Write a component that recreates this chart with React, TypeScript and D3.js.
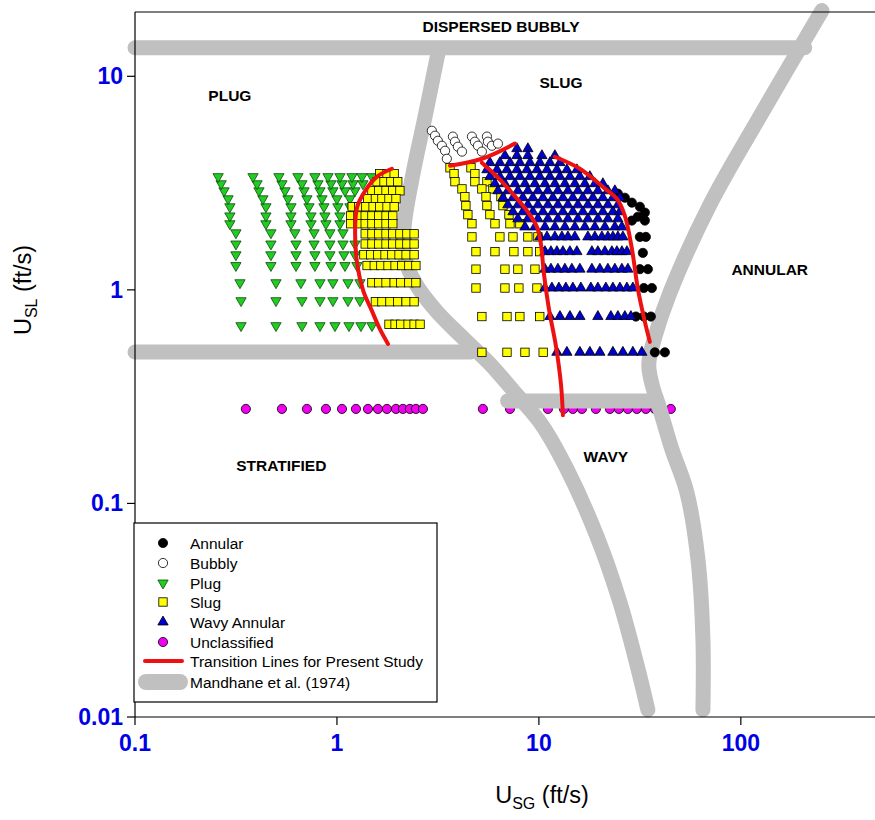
import React from "react";
import * as d3 from "d3";

// ---------- axes ----------
const xTicks = [0.1, 1, 10, 100];
const xTickLabels = ["0.1", "1", "10", "100"];
const yTicks = [0.01, 0.1, 1, 10];
const yTickLabels = ["0.01", "0.1", "1", "10"];

// ---------- data: [USL, [USG...]] rows ----------
const plugRows: [number, number[]][] = [
  [0.68, [0.335, 0.499, 0.671, 0.824, 0.978, 1.147, 1.315, 1.491]],
  [0.89, [0.335, 0.499, 0.671, 0.824, 0.955, 1.134, 1.3]],
  [1.08, [0.331, 0.499, 0.663, 0.824, 0.955, 1.134, 1.3]],
  [1.3, [0.316, 0.471, 0.627, 0.778, 0.934, 1.096, 1.256]],
  [1.46, [0.316, 0.471, 0.627, 0.778, 0.923, 1.083, 1.228]],
  [1.64, [0.316, 0.471, 0.627, 0.77, 0.923, 1.071, 1.228]],
  [1.85, [0.316, 0.471, 0.619, 0.77, 0.923, 1.071]],
  [2.04, [0.295, 0.445, 0.592, 0.744, 0.882, 1.035]],
  [2.22, [0.295, 0.445, 0.592, 0.744, 0.872, 1.035]],
  [2.45, [0.295, 0.445, 0.592, 0.727, 0.862, 1.011, 1.16]],
  [2.67, [0.289, 0.43, 0.572, 0.71, 0.843, 1.0, 1.16]],
  [2.91, [0.276, 0.411, 0.553, 0.687, 0.824, 0.955, 1.096, 1.228]],
  [3.14, [0.267, 0.402, 0.534, 0.671, 0.805, 0.934, 1.059, 1.2, 1.345]],
  [3.39, [0.258, 0.384, 0.516, 0.641, 0.778, 0.903, 1.035, 1.187, 1.33, 1.49]],
];

const slugLeftRows: [number, number[]][] = [
  [3.5, [1.63, 1.77, 1.92]],
  [3.21, [1.58, 1.71, 1.85, 2.0]],
  [2.91, [1.49, 1.61, 1.75, 1.89, 2.05]],
  [2.67, [1.42, 1.55, 1.67, 1.81, 1.96]],
  [2.45, [1.19, 1.28, 1.39, 1.51, 1.63, 1.77, 1.92]],
  [2.22, [1.17, 1.27, 1.38, 1.49, 1.61, 1.75, 1.89]],
  [2.04, [1.17, 1.27, 1.38, 1.49, 1.61, 1.75, 1.89]],
  [1.83, [1.38, 1.49, 1.61, 1.75, 1.89, 2.05, 2.22, 2.41]],
  [1.64, [1.38, 1.49, 1.61, 1.75, 1.89, 2.05, 2.22, 2.41]],
  [1.46, [1.36, 1.47, 1.59, 1.73, 1.87, 2.03, 2.2, 2.41]],
  [1.3, [1.41, 1.53, 1.65, 1.79, 1.94, 2.09, 2.27, 2.46]],
  [1.08, [1.49, 1.61, 1.75, 1.92, 2.07, 2.27, 2.46]],
  [0.88, [1.55, 1.67, 1.83, 2.0, 2.2, 2.41]],
  [0.69, [1.81, 1.94, 2.07, 2.25, 2.41, 2.58]],
];

const slugMidRows: [number, number[]][] = [
  [3.73, [3.63, 4.61]],
  [3.5, [3.8, 4.82]],
  [3.21, [3.84, 4.82, 5.53]],
  [2.97, [4.16, 5.22, 5.92]],
  [2.73, [4.3, 5.47, 6.49]],
  [2.48, [4.35, 5.53, 6.64]],
  [2.25, [4.45, 5.72, 7.11]],
  [2.04, [4.66, 6.06, 7.19, 8.05]],
  [1.77, [4.66, 6.41, 7.44, 8.82, 9.89]],
  [1.51, [4.88, 6.06, 7.52, 8.82, 10.1]],
  [1.25, [4.88, 6.79, 7.87, 9.56]],
  [1.02, [4.88, 6.79, 7.96, 9.78]],
  [0.75, [5.22, 6.95, 8.05, 10.1]],
  [0.51, [5.22, 6.95, 8.53, 10.5]],
];

const wavyRows: [number, number[]][] = [
  [4.58, [7.78, 8.82]],
  [4.25, [6.79, 7.78, 8.82, 10.35, 12.0]],
  [3.94, [5.72, 6.41, 7.19, 8.05, 9.03, 10.11, 11.34, 12.71]],
  [3.65, [5.53, 6.2, 6.94, 7.78, 8.72, 9.78, 10.96, 12.28, 13.76, 15.42]],
  [3.39, [5.72, 6.41, 7.19, 8.05, 9.03, 10.11, 11.34, 12.71, 14.24, 15.96, 17.88]],
  [3.14, [6.06, 6.79, 7.61, 8.53, 9.55, 10.71, 12.0, 13.45, 15.07, 16.89, 18.93, 20.74]],
  [2.91, [6.27, 7.02, 7.87, 8.82, 9.89, 11.08, 12.42, 13.92, 15.6, 17.48, 19.59, 21.96, 23.78]],
  [2.7, [6.64, 7.44, 8.33, 9.34, 10.47, 11.73, 13.15, 14.73, 16.51, 18.51, 20.74, 23.25, 25.18]],
  [2.5, [7.02, 7.87, 8.82, 9.89, 11.08, 12.42, 13.92, 15.6, 17.48, 19.59, 21.96, 24.61]],
  [2.32, [7.44, 8.33, 9.34, 10.47, 11.73, 13.15, 14.73, 16.51, 18.51, 20.74, 23.25, 25.18]],
  [2.15, [7.87, 8.82, 9.89, 11.08, 12.42, 13.92, 15.6, 17.48, 19.59, 21.96, 24.61]],
  [1.97, [8.53, 9.55, 10.71, 12.0, 13.45, 15.07, 16.89, 18.93, 21.22, 23.78, 25.76]],
  [1.77, [10.11, 10.96, 12.0, 13.0, 13.92, 15.07, 17.48, 18.93, 20.51, 21.96, 23.25, 24.61, 26.05]],
  [1.51, [10.71, 11.47, 12.28, 13.15, 14.24, 15.42, 18.3, 19.59, 21.22, 22.98, 24.33, 25.76, 27.27]],
  [1.25, [10.71, 11.47, 12.42, 13.45, 14.56, 15.96, 18.3, 20.04, 21.96, 23.78, 25.76, 27.58]],
  [1.02, [10.71, 11.6, 12.56, 13.6, 14.73, 16.14, 18.09, 19.59, 21.46, 23.25, 25.18, 27.27, 29.2]],
  [0.75, [11.34, 12.71, 14.24, 15.96, 19.59, 22.72, 24.61, 26.65, 28.54]],
  [0.51, [12.28, 13.76, 15.96, 17.88, 20.04, 23.25, 26.05, 29.2, 32.35]],
];

// [USG, USL]
const annularPts: [number, number][] = [
  [24.61, 2.82], [26.65, 2.7], [28.87, 2.56], [31.62, 2.45], [33.48, 2.3],
  [30.91, 2.2], [33.48, 2.11], [28.87, 2.11], [31.62, 1.77], [33.86, 1.77],
  [32.72, 1.49], [31.62, 1.25], [34.64, 1.25], [33.09, 1.02], [36.26, 1.02],
  [30.22, 0.75], [33.09, 0.75], [35.85, 0.75], [37.52, 0.51], [42.05, 0.51],
];

const bubblyPts: [number, number][] = [
  [2.95, 5.56], [3.06, 5.27], [3.16, 4.99], [3.31, 4.73], [3.43, 4.48], [3.5, 4.11],
  [3.75, 5.22], [3.84, 4.94], [3.97, 4.68], [4.16, 4.44],
  [4.66, 5.22], [4.82, 4.94], [4.99, 4.73], [5.22, 4.44],
  [5.53, 5.22], [5.59, 4.94], [5.85, 4.73], [6.27, 4.84],
];

const unclassifiedUSL = 0.277;
const unclassifiedUSG = [
  0.354, 0.534, 0.71, 0.882, 1.059, 1.242, 1.424, 1.596, 1.768, 1.96, 2.122, 2.298, 2.461, 2.666,
  5.28, 7.19, 9.34, 11.08, 13.3, 14.73, 16.33, 19.15, 22.47, 24.89, 27.58, 30.56, 33.86, 37.52, 40.64, 45.0,
];

// transition lines of present study
const redLines: [number, number][][] = [
  [[1.87, 3.69], [1.58, 3.39], [1.38, 2.91], [1.26, 2.45], [1.23, 1.89], [1.26, 1.32], [1.35, 0.989], [1.49, 0.797], [1.63, 0.656], [1.79, 0.558]],
  [[3.63, 3.81], [5.22, 4.11], [7.61, 4.84]],
  [[5.22, 3.94], [6.2, 3.39], [7.35, 2.85], [8.72, 2.35], [9.78, 1.97], [10.23, 1.64], [10.59, 1.19], [11.21, 0.814], [12.14, 0.546], [12.86, 0.362], [13.15, 0.259]],
  [[12.0, 4.2], [15.96, 3.69], [21.22, 2.98], [24.33, 2.67], [26.65, 2.22], [28.87, 1.56], [30.91, 1.01], [33.48, 0.708], [35.44, 0.571]],
];

// Mandhane et al. (1974) boundaries
const mandhaneLines: [number, number][][] = [
  [[0.1, 13.6], [207, 13.6]],
  [[252, 20.3], [124, 6.47], [70.2, 2.5], [44.5, 0.968], [37.5, 0.602], [35.0, 0.45], [36.3, 0.362], [39.7, 0.277], [45.5, 0.18], [54, 0.113], [61.3, 0.0548], [64.9, 0.0231], [64.9, 0.0108]],
  [[3.2, 13.5], [2.73, 6.47], [2.38, 3.5], [2.15, 1.97], [2.17, 1.41], [2.45, 1.07], [3.1, 0.797], [4.16, 0.602], [5.72, 0.45], [7.78, 0.322], [10.35, 0.233], [13.76, 0.145], [19.37, 0.0703], [25.18, 0.0345], [30.91, 0.0169], [34.64, 0.0108]],
  [[0.1, 0.512], [4.6, 0.512]],
  [[7.0, 0.302], [37, 0.302]],
];

const regionLabels: [string, number, number][] = [
  ["DISPERSED BUBBLY", 6.49, 17.1],
  ["SLUG", 12.86, 9.34],
  ["PLUG", 0.295, 8.12],
  ["ANNULAR", 139, 1.25],
  ["STRATIFIED", 0.53, 0.151],
  ["WAVY", 21.46, 0.165],
];

const legendLabels = [
  "Annular",
  "Bubbly",
  "Plug",
  "Slug",
  "Wavy Annular",
  "Unclassified",
  "Transition Lines for Present Study",
  "Mandhane et al. (1974)",
];

const FONT = "'Liberation Sans', Arial, Helvetica, sans-serif";
const GRAY = "#c0c0c0";
const RED = "#ee1111";
const GREEN = "#22cc22";
const YELLOW = "#ffff00";
const BLUE = "#0000cc";
const MAGENTA = "#ee00ee";
const TICK_BLUE = "#0000e6";

const flat = (rows: [number, number[]][]): [number, number][] =>
  rows.flatMap(([usl, gs]) => gs.map((g) => [g, usl] as [number, number]));

export default function App() {
  const x = d3.scaleLog().domain([0.1, 500]).range([135, 882]);
  const y = d3.scaleLog().domain([0.01, 20]).range([717, 12]);
  const line = d3
    .line<[number, number]>()
    .x((d) => x(d[0]))
    .y((d) => y(d[1]))
    .curve(d3.curveCatmullRom.alpha(0.5));

  const tri = d3.symbol().type(d3.symbolTriangle).size(46)() as string;

  const plugPts = flat(plugRows);
  const slugPts = [...flat(slugLeftRows), ...flat(slugMidRows)];
  const wavyPts = flat(wavyRows);
  const unclPts: [number, number][] = unclassifiedUSG.map((g) => [g, unclassifiedUSL]);

  const sw = 0.8;
  const circle = (cx: number, cy: number, fill: string, key: string) => (
    <circle key={key} cx={cx} cy={cy} r={4.6} fill={fill} stroke="#000" strokeWidth={sw} />
  );
  const square = (cx: number, cy: number, key: string) => (
    <rect key={key} x={cx - 4.2} y={cy - 4.2} width={8.4} height={8.4} fill={YELLOW} stroke="#000" strokeWidth={sw} />
  );
  const triUp = (cx: number, cy: number, key: string) => (
    <path key={key} d={tri} transform={`translate(${cx},${cy})`} fill={BLUE} stroke="#000" strokeWidth={sw} />
  );
  const triDown = (cx: number, cy: number, key: string) => (
    <path key={key} d={tri} transform={`translate(${cx},${cy}) rotate(180)`} fill={GREEN} stroke="#0a4a0a" strokeWidth={sw} />
  );

  const legendY = [543, 563, 583, 602, 622, 642, 661, 682];
  const lx = 163;

  return (
    <div style={{ position: "absolute", left: 0, top: 0 }}>
      <svg width={875} height={820} style={{ display: "block", background: "#fff" }} fontFamily={FONT}>
        <rect x={0} y={0} width={875} height={820} fill="#fff" />

        {/* unclassified (beneath boundaries) */}
        <g>{unclPts.map((d, i) => circle(x(d[0]), y(d[1]), MAGENTA, "u" + i))}</g>

        {/* Mandhane boundaries */}
        <g fill="none" stroke={GRAY} strokeWidth={15} strokeLinecap="round" strokeLinejoin="round">
          {mandhaneLines.map((l, i) => (
            <path key={i} d={line(l) as string} />
          ))}
        </g>

        {/* data markers */}
        <g>{annularPts.map((d, i) => circle(x(d[0]), y(d[1]), "#000", "a" + i))}</g>
        <g>{bubblyPts.map((d, i) => circle(x(d[0]), y(d[1]), "#fff", "b" + i))}</g>
        <g>{plugPts.map((d, i) => triDown(x(d[0]), y(d[1]), "p" + i))}</g>
        <g>{slugPts.map((d, i) => square(x(d[0]), y(d[1]), "s" + i))}</g>
        <g>{wavyPts.map((d, i) => triUp(x(d[0]), y(d[1]), "w" + i))}</g>

        {/* transition lines */}
        <g fill="none" stroke={RED} strokeWidth={4} strokeLinecap="round" strokeLinejoin="round">
          {redLines.map((l, i) => (
            <path key={i} d={line(l) as string} />
          ))}
        </g>

        {/* region labels */}
        <g fontWeight="bold" fontSize={15.5} textAnchor="middle" fill="#000">
          {regionLabels.map(([t, gx, gy]) => (
            <text key={t} x={x(gx)} y={y(gy) + 5.5}>
              {t}
            </text>
          ))}
        </g>

        {/* frame / axes */}
        <line x1={135} y1={12} x2={875} y2={12} stroke="#000" strokeWidth={1.2} />
        <line x1={135} y1={12} x2={135} y2={717} stroke="#000" strokeWidth={1.2} />
        <line x1={135} y1={717} x2={875} y2={717} stroke="#000" strokeWidth={1.2} />

        <g>
          {xTicks.map((t, i) => (
            <g key={t}>
              <line x1={x(t)} x2={x(t)} y1={717} y2={725} stroke="#000" strokeWidth={1.2} />
              <text x={x(t)} y={751} textAnchor="middle" fontSize={23} fontWeight="bold" fill={TICK_BLUE}>
                {xTickLabels[i]}
              </text>
            </g>
          ))}
          {yTicks.map((t, i) => (
            <g key={t}>
              <line x1={127} x2={135} y1={y(t)} y2={y(t)} stroke="#000" strokeWidth={1.2} />
              <text x={123} y={y(t) + 8} textAnchor="end" fontSize={23} fontWeight="bold" fill={TICK_BLUE}>
                {yTickLabels[i]}
              </text>
            </g>
          ))}
        </g>

        {/* axis titles */}
        <text x={542} y={803} textAnchor="middle" fontSize={23.5} fill="#000">
          U<tspan fontSize={16} dy={6}>SG</tspan>
          <tspan dy={-6}> (ft/s)</tspan>
        </text>
        <text transform="translate(31,290) rotate(-90)" textAnchor="middle" fontSize={23.5} fill="#000">
          U<tspan fontSize={16} dy={6}>SL</tspan>
          <tspan dy={-6}> (ft/s)</tspan>
        </text>

        {/* legend */}
        <g>
          <rect x={134} y={523} width={303} height={179} fill="#fff" stroke="#000" strokeWidth={1.2} />
          {circle(lx, legendY[0], "#000", "la")}
          {circle(lx, legendY[1], "#fff", "lb")}
          {triDown(lx, legendY[2], "lp")}
          {square(lx, legendY[3], "ls")}
          {triUp(lx, legendY[4], "lw")}
          {circle(lx, legendY[5], MAGENTA, "lu")}
          <line x1={145} x2={182} y1={legendY[6]} y2={legendY[6]} stroke={RED} strokeWidth={4} strokeLinecap="round" />
          <line x1={146} x2={180} y1={legendY[7]} y2={legendY[7]} stroke={GRAY} strokeWidth={16} strokeLinecap="round" />
          {legendLabels.map((t, i) => (
            <text key={t} x={190} y={legendY[i] + 5.5} fontSize={15.5} fill="#000">
              {t}
            </text>
          ))}
        </g>
      </svg>
    </div>
  );
}
